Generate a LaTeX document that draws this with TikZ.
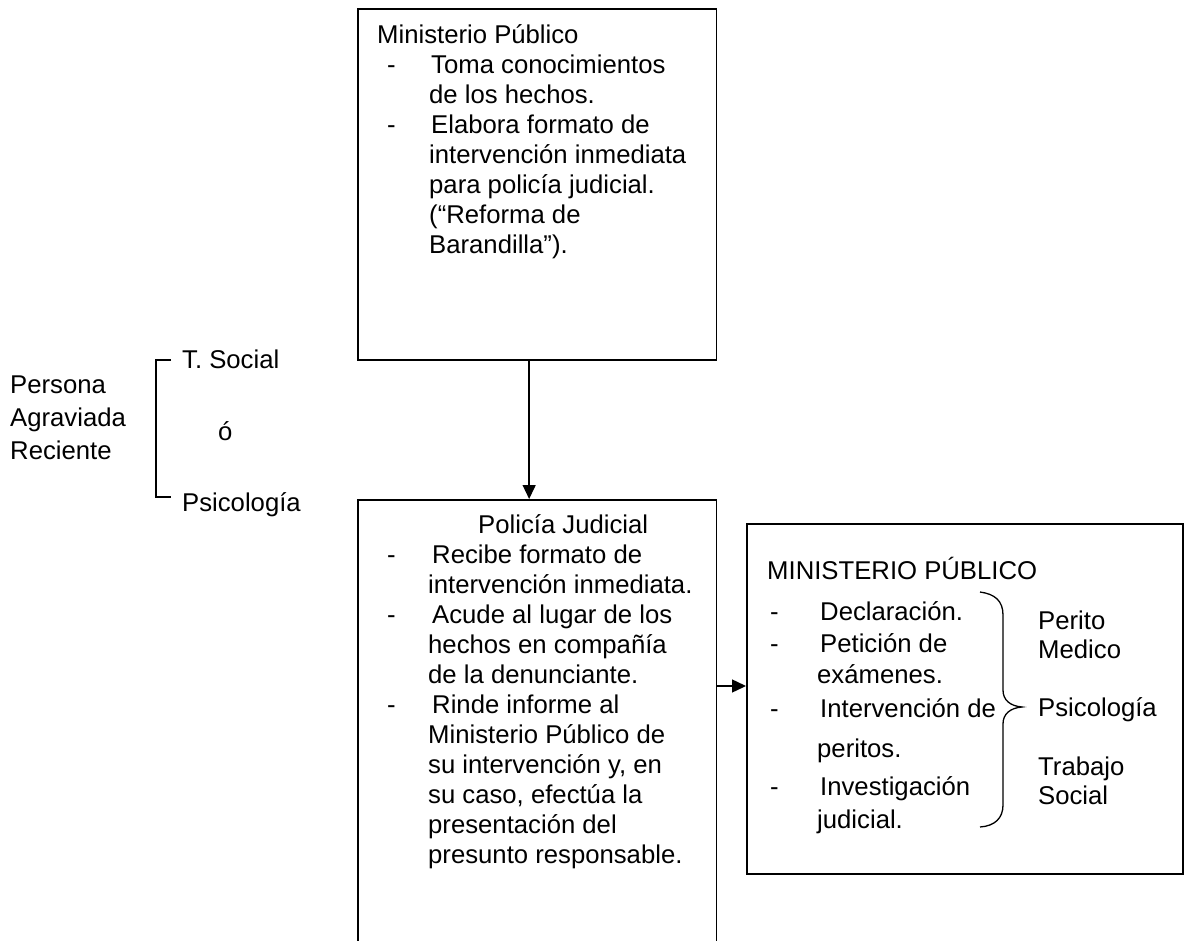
\documentclass[tikz,border=0pt]{standalone}
\usepackage{fontspec}
\setmainfont{Liberation Sans}
\usetikzlibrary{arrows.meta}
\begin{document}
\begin{tikzpicture}[x=1pt,y=-1pt,
  box/.style={draw,line width=1.6pt,rectangle,inner sep=0pt,anchor=north west},
  txt/.style={anchor=base west,inner sep=0pt,font=\fontsize{25.7}{30}\selectfont},
  arrow/.style={line width=1.4pt,-{Triangle[length=14pt,width=13pt]}},
  bracketline/.style={line width=1.5pt}]
\clip (0,0) rectangle (1184,941);
\fill[white] (0,0) rectangle (1184,941);
% boxes
\node[box,minimum width=358.7pt,minimum height=351pt] (mp) at (357,8) {};
\node[box,minimum width=358.7pt,minimum height=470pt] (pj) at (357,499) {};
\node[box,minimum width=436pt,minimum height=350pt] (mp3) at (746,523) {};
% connectors
\draw[arrow] ([xshift=-8pt]mp.south) -- ([xshift=-8pt]pj.north);
\coordinate (h) at (0,686);
\draw[arrow] (pj.east |- h) -- (mp3.west |- h);
% box 1 text
\node[txt] (a0) at (377,43.5) {Ministerio Público};
\node[txt] (a1d) at (387,73.5) {-};
\node[txt] (a1) at (431,73.5) {Toma conocimientos};
\node[txt] (a2) at (429,103.5) {de los hechos.};
\node[txt] (a3d) at (387,133.5) {-};
\node[txt] (a3) at (431,133.5) {Elabora formato de};
\node[txt] (a4) at (429,163.5) {intervención inmediata};
\node[txt] (a5) at (429,193.5) {para policía judicial.};
\node[txt] (a6) at (429,223.5) {(“Reforma de};
\node[txt] (a7) at (429,253.5) {Barandilla”).};
% box 2 text
\node[txt] (b0) at (478,533) {Policía Judicial};
\node[txt] (b1d) at (387,563) {-};
\node[txt] (b1) at (432,563) {Recibe formato de};
\node[txt] (b2) at (428,593) {intervención inmediata.};
\node[txt] (b3d) at (387,623) {-};
\node[txt] (b3) at (432,623) {Acude al lugar de los};
\node[txt] (b4) at (428,653) {hechos en compañía};
\node[txt] (b5) at (428,683) {de la denunciante.};
\node[txt] (b6d) at (387,713) {-};
\node[txt] (b6) at (432,713) {Rinde informe al};
\node[txt] (b7) at (428,743) {Ministerio Público de};
\node[txt] (b8) at (428,773) {su intervención y, en};
\node[txt] (b9) at (428,803) {su caso, efectúa la};
\node[txt] (b10) at (428,833) {presentación del};
\node[txt] (b11) at (428,863) {presunto responsable.};
% box 3 text
\node[txt] (c0) at (767,579) {MINISTERIO PÚBLICO};
\node[txt] (c1d) at (770,620) {-};
\node[txt] (c1) at (820,620) {Declaración.};
\node[txt] (c2d) at (770,652) {-};
\node[txt] (c2) at (820,652) {Petición de};
\node[txt] (c3) at (817,683) {exámenes.};
\node[txt] (c4d) at (770,717) {-};
\node[txt] (c4) at (820,717) {Intervención de};
\node[txt] (c5) at (817,757) {peritos.};
\node[txt] (c6d) at (770,795) {-};
\node[txt] (c6) at (820,795) {Investigación};
\node[txt] (c7) at (817,828) {judicial.};
\node[txt] (r1) at (1038,629) {Perito};
\node[txt] (r2) at (1038,658) {Medico};
\node[txt] (r3) at (1038,716) {Psicología};
\node[txt] (r4) at (1038,775) {Trabajo};
\node[txt] (r5) at (1038,804) {Social};
% brace
\draw[bracketline,line width=1.3pt] (980,592) .. controls (995,594) and (1003,601) .. (1003,615)
  -- (1003,690) .. controls (1003,700) and (1010,706) .. (1022,707)
  .. controls (1010,708) and (1003,714) .. (1003,724)
  -- (1003,805) .. controls (1003,818) and (995,826) .. (980,827);
% left side
\node[txt] (l1) at (10,393) {Persona};
\node[txt] (l2) at (10,426) {Agraviada};
\node[txt] (l3) at (10,459) {Reciente};
\node[txt] (s1) at (182,369) {T. Social};
\node[txt] (s2) at (218,440) {ó};
\node[txt] (s3) at (182,511) {Psicología};
\draw[bracketline] (171,360) -- (156,360) -- (156,497) -- (171,497);
\end{tikzpicture}
\end{document}
